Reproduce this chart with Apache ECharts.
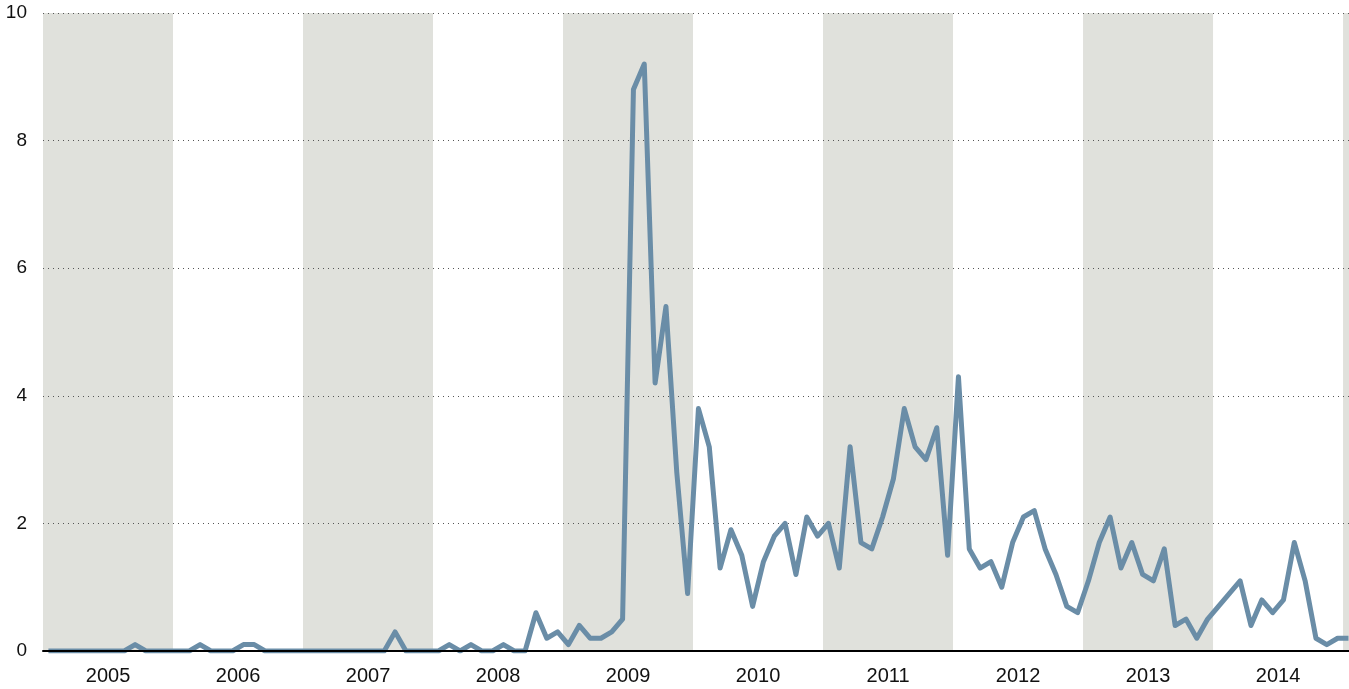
<!DOCTYPE html>
<html>
<head>
<meta charset="utf-8">
<script src="https://cdn.jsdelivr.net/npm/echarts@6/dist/echarts.min.js"></script>
<style>
  html, body { margin: 0; padding: 0; background: #fff; }
  #chart { width: 1349px; height: 689px; }
</style>
</head>
<body>
<div id="chart"></div>
<script>
// monthly values, Jan 2005 .. Jan 2015
let values2005 = [0, 0, 0, 0, 0, 0, 0, 0, 0.1, 0, 0, 0];
let values2006 = [0, 0, 0.1, 0, 0, 0, 0.1, 0.1, 0, 0, 0, 0];
let values2007 = [0, 0, 0, 0, 0, 0, 0, 0, 0.3, 0, 0, 0];
let values2008 = [0, 0.1, 0, 0.1, 0, 0, 0.1, 0, 0, 0.6, 0.2, 0.3];
let values2009 = [0.1, 0.4, 0.2, 0.2, 0.3, 0.5, 8.8, 9.2, 4.2, 5.4, 2.8, 0.9];
let values2010 = [3.8, 3.2, 1.3, 1.9, 1.5, 0.7, 1.4, 1.8, 2.0, 1.2, 2.1, 1.8];
let values2011 = [2.0, 1.3, 3.2, 1.7, 1.6, 2.1, 2.7, 3.8, 3.2, 3.0, 3.5, 1.5];
let values2012 = [4.3, 1.6, 1.3, 1.4, 1.0, 1.7, 2.1, 2.2, 1.6, 1.2, 0.7, 0.6];
let values2013 = [1.1, 1.7, 2.1, 1.3, 1.7, 1.2, 1.1, 1.6, 0.4, 0.5, 0.2, 0.5];
let values2014 = [0.7, 0.9, 1.1, 0.4, 0.8, 0.6, 0.8, 1.7, 1.1, 0.2, 0.1, 0.2];
let values2015 = [0.2];

let years = ["2005", "2006", "2007", "2008", "2009", "2010", "2011", "2012", "2013", "2014"];
let shadedYears = [0, 2, 4, 6, 8, 10]; // year offsets from 2005 that get a grey band
let yTicks = [0, 2, 4, 6, 8, 10];

let allValues = [].concat(values2005, values2006, values2007, values2008, values2009,
    values2010, values2011, values2012, values2013, values2014, values2015);

// x in months since Jan 2005, each point in the middle of its month
let lineData = allValues.map((v, i) => [i + 0.5, v]);

let xMax = 120.55;
let bands = shadedYears.map(k => [{ xAxis: k * 12 }, { xAxis: Math.min(k * 12 + 12, xMax) }]);

let chart = echarts.init(document.getElementById("chart"));

let option = {
    animation: false,
    textStyle: { fontFamily: "Liberation Sans" },
    grid: { left: 43, right: 0, top: 13, bottom: 38 },
    xAxis: {
        type: "value",
        min: 0,
        max: xMax,
        z: 5,
        axisLine: { show: true, onZero: true, lineStyle: { color: "#000", width: 2 } },
        axisTick: { show: false },
        splitLine: { show: false },
        axisLabel: {
            customValues: years.map((y, i) => i * 12 + 6),
            formatter: v => years[Math.round((v - 6) / 12)],
            color: "#111",
            fontSize: 20,
            margin: 15
        }
    },
    yAxis: {
        type: "value",
        min: 0,
        max: 10,
        interval: 2,
        z: 1,
        axisLine: { show: false },
        axisTick: { show: false },
        axisLabel: {
            color: "#111",
            fontSize: 19,
            margin: 16,
            formatter: v => yTicks.includes(v) ? String(v) : ""
        },
        splitLine: { show: true, lineStyle: { color: "#555", width: 1, type: [1, 4] } }
    },
    series: [
        {
            name: "bands",
            type: "line",
            z: 0,
            data: [],
            silent: true,
            markArea: {
                silent: true,
                z: 0,
                itemStyle: { color: "#e0e1dc" },
                data: bands
            }
        },
        {
            name: "value",
            type: "line",
            z: 3,
            data: lineData,
            showSymbol: false,
            symbol: "none",
            lineStyle: { color: "#6a8da7", width: 5, join: "round" }
        }
    ]
};

chart.setOption(option);
</script>
</body>
</html>
